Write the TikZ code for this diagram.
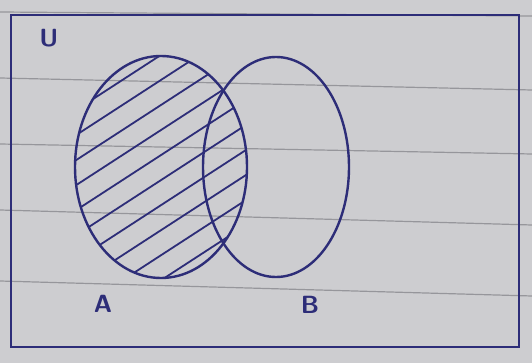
\documentclass[tikz,border=0pt]{standalone}
\usepackage{tikz}
\usetikzlibrary{shapes.geometric}
\definecolor{pen}{RGB}{45,45,120}
\definecolor{paper}{RGB}{205,205,208}
\definecolor{rule}{RGB}{150,150,155}

\begin{document}
\begin{tikzpicture}[x=1pt, y=-1pt, line width=2.4pt]
  \tikzstyle{set}=[draw=pen, ellipse, inner sep=0pt, line width=2.4pt]
  \tikzstyle{lbl}=[text=pen, font=\sffamily\bfseries\Huge]
  \tikzstyle{ruling}=[draw=rule, line width=1.2pt]

  % paper and its ruled lines
  \fill[paper] (0,0) rectangle (532,363);
  \useasboundingbox (0,0) rectangle (532,363);
  \draw[ruling] (0,12) -- (532,16);
  \draw[ruling] (0,78) -- (532,90);
  \draw[ruling] (0,144) -- (532,154);
  \draw[ruling] (0,210) -- (532,225);
  \draw[ruling] (0,281) -- (532,296);

  % universal set
  \node[draw=pen, line width=2.4pt, minimum width=508pt, minimum height=332pt, inner sep=0pt] (univ) at (265,181) {};
  \node[lbl] (u) at (49,38) {U};

  % the two sets
  \node[set, minimum width=172pt, minimum height=222pt] (setA) at (161,167) {};
  \node[set, minimum width=146pt, minimum height=220pt] (setB) at (276,167) {};

  % hatching of A
  \begin{scope}
    \clip (161,167) ellipse [x radius=86, y radius=111];
    \begin{scope}[shift={(161,167)}, rotate=33]
      \foreach \d in {-94,-73,...,95}
        \draw[pen, line width=1.8pt] (-200,\d) -- (200,\d);
    \end{scope}
  \end{scope}

  % labels
  \node[lbl] (labA) at (103,304) {A};
  \node[lbl] (labB) at (310,305) {B};
\end{tikzpicture}
\end{document}
